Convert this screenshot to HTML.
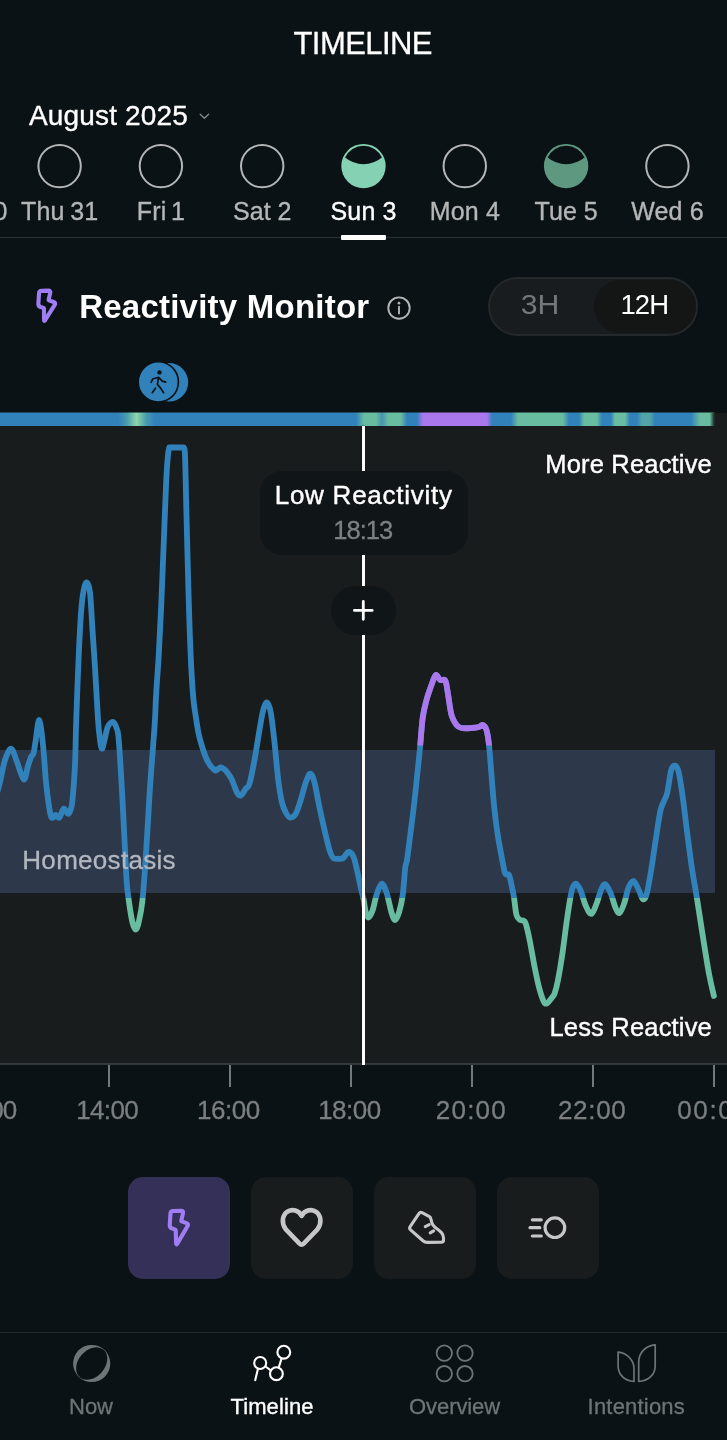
<!DOCTYPE html>
<html lang="en"><head><meta charset="utf-8"><title>Timeline</title>
<style>
html,body{margin:0;padding:0;}
body{width:727px;height:1440px;position:relative;overflow:hidden;background:#0b1215;font-family:"Liberation Sans",sans-serif;color:#fff;}
svg{display:block;overflow:visible}
</style></head><body><div id="app" style="position:absolute;left:0;top:0;width:727px;height:1440px;will-change:transform">
<div style="position:absolute;top:28.36px;font-size:31px;line-height:31px;color:#fff;white-space:nowrap;font-weight:normal;letter-spacing:-0.55px;left:362.73px;transform:translateX(-50%);-webkit-text-stroke:0.3px #fff;">TIMELINE</div>
<div style="position:absolute;top:102.10px;font-size:28px;line-height:28px;color:#fff;white-space:nowrap;font-weight:normal;letter-spacing:0.15px;left:29.00px;-webkit-text-stroke:0.35px #fff;">August 2025</div>
<svg style="position:absolute;left:196px;top:108px" width="18" height="16" viewBox="196 108 18 16"><path d="M200.2 114.2 L204.4 118.2 L208.6 114.2" fill="none" stroke="#85888a" stroke-width="1.4" stroke-linecap="round" stroke-linejoin="round"/></svg>
<svg style="position:absolute;left:0;top:130px" width="727" height="70" viewBox="0 130 727 70">
<circle cx="-41.7" cy="166.1" r="21.2" fill="none" stroke="#b4b6b7" stroke-width="2"/>
<circle cx="59.6" cy="166.1" r="21.2" fill="none" stroke="#b4b6b7" stroke-width="2"/>
<circle cx="160.9" cy="166.1" r="21.2" fill="none" stroke="#b4b6b7" stroke-width="2"/>
<circle cx="262.2" cy="166.1" r="21.2" fill="none" stroke="#b4b6b7" stroke-width="2"/>
<circle cx="363.5" cy="166.1" r="22.2" fill="#84d1b3"/>
<path d="M345.05,157.6 A20.3,20.3 0 0 1 381.95,157.6 A29.1,29.1 0 0 1 345.05,157.6 Z" fill="#0b1215"/>
<circle cx="464.8" cy="166.1" r="21.2" fill="none" stroke="#b4b6b7" stroke-width="2"/>
<circle cx="566.1" cy="166.1" r="22.2" fill="#5e9881"/>
<path d="M547.65,157.6 A20.3,20.3 0 0 1 584.55,157.6 A29.1,29.1 0 0 1 547.65,157.6 Z" fill="#0b1215"/>
<circle cx="667.4" cy="166.1" r="21.2" fill="none" stroke="#b4b6b7" stroke-width="2"/>
</svg>
<div style="position:absolute;top:198.84px;font-size:25px;line-height:25px;color:#b4b6b7;white-space:nowrap;font-weight:normal;letter-spacing:0.15px;left:7.65px;transform:translateX(-100%);-webkit-text-stroke:0.35px #b4b6b7;word-spacing:0px;">Wed 30</div>
<div style="position:absolute;top:198.84px;font-size:25px;line-height:25px;color:#b4b6b7;white-space:nowrap;font-weight:normal;letter-spacing:0.15px;left:59.68px;transform:translateX(-50%);-webkit-text-stroke:0.35px #b4b6b7;word-spacing:-1.5px;">Thu 31</div>
<div style="position:absolute;top:198.84px;font-size:25px;line-height:25px;color:#b4b6b7;white-space:nowrap;font-weight:normal;letter-spacing:0.15px;left:160.97px;transform:translateX(-50%);-webkit-text-stroke:0.35px #b4b6b7;word-spacing:-2.5px;">Fri 1</div>
<div style="position:absolute;top:198.84px;font-size:25px;line-height:25px;color:#b4b6b7;white-space:nowrap;font-weight:normal;letter-spacing:0.15px;left:262.27px;transform:translateX(-50%);-webkit-text-stroke:0.35px #b4b6b7;word-spacing:-0.5px;">Sat 2</div>
<div style="position:absolute;top:198.84px;font-size:25px;line-height:25px;color:#fff;white-space:nowrap;font-weight:normal;letter-spacing:0.15px;left:363.57px;transform:translateX(-50%);-webkit-text-stroke:0.35px #fff;word-spacing:0px;">Sun 3</div>
<div style="position:absolute;top:198.84px;font-size:25px;line-height:25px;color:#b4b6b7;white-space:nowrap;font-weight:normal;letter-spacing:0.15px;left:464.88px;transform:translateX(-50%);-webkit-text-stroke:0.35px #b4b6b7;word-spacing:0px;">Mon 4</div>
<div style="position:absolute;top:198.84px;font-size:25px;line-height:25px;color:#b4b6b7;white-space:nowrap;font-weight:normal;letter-spacing:0.15px;left:566.18px;transform:translateX(-50%);-webkit-text-stroke:0.35px #b4b6b7;word-spacing:-0.5px;">Tue 5</div>
<div style="position:absolute;top:198.84px;font-size:25px;line-height:25px;color:#b4b6b7;white-space:nowrap;font-weight:normal;letter-spacing:0.15px;left:667.48px;transform:translateX(-50%);-webkit-text-stroke:0.35px #b4b6b7;word-spacing:0px;">Wed 6</div>
<div style="position:absolute;left:0;top:236.5px;width:727px;height:1.5px;background:#2a3033"></div>
<div style="position:absolute;left:341.3px;top:234.5px;width:44.6px;height:5px;background:#fff;border-radius:1px"></div>
<svg style="position:absolute;left:30px;top:282px" width="36" height="48" viewBox="30 282 36 48"><path d="M39.04,293.29Q39.20,290.90 41.60,290.84L48.40,290.66Q50.80,290.60 50.24,292.93L48.59,299.81Q48.50,300.20 48.88,300.33L53.73,302.01Q56.00,302.80 54.73,304.84L45.27,319.96Q44.00,322.00 44.00,319.60L44.00,308.40Q44.00,308.00 43.62,307.89L40.50,306.98Q38.20,306.30 38.36,303.91Z" fill="none" stroke="#a07df5" stroke-width="4.1" stroke-linejoin="round" stroke-linecap="round"/></svg>
<div style="position:absolute;top:290.27px;font-size:33px;line-height:33px;color:#fff;white-space:nowrap;font-weight:bold;letter-spacing:0.23px;left:79.20px;">Reactivity Monitor</div>
<svg style="position:absolute;left:385px;top:294px" width="28" height="28" viewBox="385 294 28 28"><circle cx="399" cy="308.1" r="10.7" fill="none" stroke="#b4b6b7" stroke-width="1.9"/><circle cx="399" cy="303.2" r="1.35" fill="#b4b6b7"/><path d="M399 306.8 V313.6" stroke="#b4b6b7" stroke-width="1.9" stroke-linecap="round"/></svg>
<div style="position:absolute;left:487.5px;top:277px;width:210.5px;height:58.5px;border-radius:30px;background:#181c1e;box-sizing:border-box;border:2px solid #24282b"></div>
<div style="position:absolute;left:594px;top:279.5px;width:102px;height:53.5px;border-radius:27px;background:#141515"></div>
<div style="position:absolute;top:291.22px;font-size:27.5px;line-height:27.5px;color:#747779;white-space:nowrap;font-weight:normal;left:540.30px;transform:translateX(-50%) scaleX(1.1);">3H</div>
<div style="position:absolute;top:291.22px;font-size:27.5px;line-height:27.5px;color:#fff;white-space:nowrap;font-weight:normal;letter-spacing:-0.9px;left:644.35px;transform:translateX(-50%);">12H</div>
<svg style="position:absolute;left:130px;top:355px" width="70" height="55" viewBox="130 355 70 55">
<circle cx="168.9" cy="382.3" r="19.3" fill="#3181ba"/>
<circle cx="158.3" cy="381.9" r="20.1" fill="#3181ba" stroke="#0b1215" stroke-width="1.6"/>
<circle cx="159.5" cy="372.4" r="2.2" fill="#0b1215"/>
<path d="M158.5 377.4 L157.4 384.4 L160.6 388.1 L163.6 392.8 M155.6 388.1 L152.3 392.7 M157.6 377.5 L152.7 379 L151.1 382.3 M158.9 377.7 L162.2 381.1 L165.7 382.1" fill="none" stroke="#0b1215" stroke-width="1.7" stroke-linecap="round" stroke-linejoin="round"/>
</svg>
<div style="position:absolute;left:0;top:412.5px;width:727px;height:651px;background:#191c1d"></div>
<div style="position:absolute;left:0;top:1063px;width:727px;height:2px;background:#34383b"></div>
<div style="position:absolute;left:0;top:750px;width:714.6px;height:143.3px;background:#2d384a"></div>
<svg style="position:absolute;left:0;top:405px" width="727" height="640" viewBox="0 405 727 640">
<defs>
<linearGradient id="bar" gradientUnits="userSpaceOnUse" x1="0" y1="0" x2="714.5" y2="0"><stop offset="0.0000" stop-color="#3181ba"/><stop offset="0.1652" stop-color="#3181ba"/><stop offset="0.1777" stop-color="#4a9dae"/><stop offset="0.1910" stop-color="#8cd7aa"/><stop offset="0.2043" stop-color="#4a9dae"/><stop offset="0.2169" stop-color="#3181ba"/><stop offset="0.4983" stop-color="#3181ba"/><stop offset="0.5094" stop-color="#68bc9f"/><stop offset="0.5262" stop-color="#68bc9f"/><stop offset="0.5346" stop-color="#4594b2"/><stop offset="0.5430" stop-color="#68bc9f"/><stop offset="0.5612" stop-color="#68bc9f"/><stop offset="0.5696" stop-color="#3181ba"/><stop offset="0.5836" stop-color="#3181ba"/><stop offset="0.5920" stop-color="#ab77ed"/><stop offset="0.6816" stop-color="#ab77ed"/><stop offset="0.6886" stop-color="#3181ba"/><stop offset="0.7152" stop-color="#3181ba"/><stop offset="0.7250" stop-color="#68bc9f"/><stop offset="0.7880" stop-color="#68bc9f"/><stop offset="0.7964" stop-color="#3181ba"/><stop offset="0.8104" stop-color="#3181ba"/><stop offset="0.8174" stop-color="#68bc9f"/><stop offset="0.8355" stop-color="#68bc9f"/><stop offset="0.8425" stop-color="#3181ba"/><stop offset="0.8551" stop-color="#3181ba"/><stop offset="0.8607" stop-color="#68bc9f"/><stop offset="0.8747" stop-color="#68bc9f"/><stop offset="0.8817" stop-color="#3181ba"/><stop offset="0.8915" stop-color="#3181ba"/><stop offset="0.8985" stop-color="#52a4a9"/><stop offset="0.9097" stop-color="#52a4a9"/><stop offset="0.9167" stop-color="#3181ba"/><stop offset="0.9671" stop-color="#3181ba"/><stop offset="0.9797" stop-color="#68bc9f"/><stop offset="1.0000" stop-color="#68bc9f"/></linearGradient>
<linearGradient id="ln" gradientUnits="userSpaceOnUse" x1="0" y1="400" x2="0" y2="1100">
<stop offset="0" stop-color="#3181ba"/>
<stop offset="0.7111" stop-color="#3181ba"/><stop offset="0.7111" stop-color="#68bc9f"/><stop offset="1" stop-color="#68bc9f"/>
</linearGradient>
<clipPath id="pclip"><rect x="410" y="600" width="90" height="145.5"/></clipPath>
<linearGradient id="fade" gradientUnits="userSpaceOnUse" x1="709.8" y1="0" x2="714.5" y2="0"><stop offset="0" stop-color="#191c1d" stop-opacity="0"/><stop offset="1" stop-color="#191c1d" stop-opacity="1"/></linearGradient>
</defs>
<rect x="0" y="412.5" width="714.5" height="13.5" fill="url(#bar)"/>
<rect x="709.8" y="412.5" width="5" height="13.5" fill="url(#fade)"/>
<path d="M-5.00,800.00C-4.17,797.00 -1.67,788.67 0.00,782.00C1.67,775.33 3.12,765.54 5.00,760.00C6.88,754.46 9.25,748.42 11.25,748.75C13.25,749.08 14.92,756.88 17.00,762.00C19.08,767.12 21.92,778.83 23.75,779.50C25.58,780.17 26.79,769.75 28.00,766.00C29.21,762.25 30.07,759.17 31.00,757.00C31.93,754.83 32.83,755.67 33.60,753.00C34.37,750.33 34.66,746.50 35.60,741.00C36.54,735.50 38.02,719.33 39.25,720.00C40.48,720.67 41.88,734.67 43.00,745.00C44.12,755.33 45.00,771.83 46.00,782.00C47.00,792.17 48.12,800.17 49.00,806.00C49.88,811.83 50.42,815.17 51.25,817.00C52.08,818.83 53.21,817.33 54.00,817.00C54.79,816.67 55.08,814.92 56.00,815.00C56.92,815.08 58.21,818.54 59.50,817.50C60.79,816.46 62.33,809.38 63.75,808.75C65.17,808.12 66.88,813.54 68.00,813.75C69.12,813.96 69.75,812.29 70.50,810.00C71.25,807.71 71.75,807.50 72.50,800.00C73.25,792.50 74.38,778.42 75.00,765.00C75.62,751.58 75.62,737.83 76.25,719.50C76.88,701.17 77.92,673.25 78.75,655.00C79.58,636.75 80.42,620.83 81.25,610.00C82.08,599.17 82.83,594.58 83.75,590.00C84.67,585.42 85.71,582.08 86.75,582.50C87.79,582.92 89.04,584.58 90.00,592.50C90.96,600.42 91.67,617.50 92.50,630.00C93.33,642.50 94.08,652.58 95.00,667.50C95.92,682.42 97.17,707.42 98.00,719.50C98.83,731.58 99.33,735.12 100.00,740.00C100.67,744.88 101.25,748.75 102.00,748.75C102.75,748.75 103.58,743.54 104.50,740.00C105.42,736.46 106.50,730.33 107.50,727.50C108.50,724.67 109.46,723.83 110.50,723.00C111.54,722.17 112.75,721.67 113.75,722.50C114.75,723.33 115.67,725.08 116.50,728.00C117.33,730.92 117.75,728.00 118.75,740.00C119.75,752.00 121.25,777.50 122.50,800.00C123.75,822.50 125.21,858.33 126.25,875.00C127.29,891.67 127.71,892.08 128.75,900.00C129.79,907.92 131.33,917.58 132.50,922.50C133.67,927.42 134.71,929.58 135.75,929.50C136.79,929.42 137.62,926.92 138.75,922.00C139.88,917.08 141.25,912.00 142.50,900.00C143.75,888.00 145.00,868.75 146.25,850.00C147.50,831.25 148.75,806.25 150.00,787.50C151.25,768.75 152.92,748.83 153.75,737.50C154.58,726.17 154.58,727.00 155.00,719.50C155.42,712.00 155.62,703.25 156.25,692.50C156.88,681.75 157.92,669.58 158.75,655.00C159.58,640.42 160.42,623.75 161.25,605.00C162.08,586.25 162.92,563.33 163.75,542.50C164.58,521.67 165.54,494.58 166.25,480.00C166.96,465.42 167.50,460.42 168.00,455.00C168.50,449.58 169.04,448.75 169.25,447.50L183.75,447.50C183.96,448.75 184.58,445.42 185.00,455.00C185.42,464.58 185.83,488.33 186.25,505.00C186.67,521.67 187.00,536.25 187.50,555.00C188.00,573.75 188.62,598.75 189.25,617.50C189.88,636.25 190.54,653.75 191.25,667.50C191.96,681.25 192.67,691.33 193.50,700.00C194.33,708.67 195.25,713.25 196.25,719.50C197.25,725.75 197.71,730.75 199.50,737.50C201.29,744.25 204.50,754.58 207.00,760.00C209.50,765.42 212.67,768.50 214.50,770.00C216.33,771.50 216.96,769.42 218.00,769.00C219.04,768.58 219.75,767.50 220.75,767.50C221.75,767.50 222.96,768.25 224.00,769.00C225.04,769.75 225.67,770.17 227.00,772.00C228.33,773.83 230.33,776.58 232.00,780.00C233.67,783.42 235.54,789.92 237.00,792.50C238.46,795.08 239.29,796.12 240.75,795.50C242.21,794.88 244.29,790.71 245.75,788.75C247.21,786.79 248.04,788.54 249.50,783.75C250.96,778.96 252.83,768.96 254.50,760.00C256.17,751.04 258.04,738.33 259.50,730.00C260.96,721.67 262.00,714.58 263.25,710.00C264.50,705.42 265.75,702.08 267.00,702.50C268.25,702.92 269.50,705.83 270.75,712.50C272.00,719.17 273.25,731.25 274.50,742.50C275.75,753.75 277.00,770.00 278.25,780.00C279.50,790.00 280.75,797.08 282.00,802.50C283.25,807.92 284.42,810.00 285.75,812.50C287.08,815.00 288.33,817.29 290.00,817.50C291.67,817.71 293.96,816.67 295.75,813.75C297.54,810.83 299.08,805.21 300.75,800.00C302.42,794.79 304.17,786.88 305.75,782.50C307.33,778.12 308.79,773.75 310.25,773.75C311.71,773.75 312.96,776.88 314.50,782.50C316.04,788.12 317.83,799.58 319.50,807.50C321.17,815.42 322.83,822.92 324.50,830.00C326.17,837.08 328.04,845.33 329.50,850.00C330.96,854.67 331.79,856.54 333.25,858.00C334.71,859.46 336.58,858.75 338.25,858.75C339.92,858.75 341.58,859.12 343.25,858.00C344.92,856.88 346.58,852.29 348.25,852.00C349.92,851.71 351.79,853.25 353.25,856.25C354.71,859.25 355.75,864.79 357.00,870.00C358.25,875.21 359.62,882.50 360.75,887.50C361.88,892.50 363.00,896.25 363.75,900.00C364.50,903.75 364.46,907.08 365.25,910.00C366.04,912.92 367.25,917.50 368.50,917.50C369.75,917.50 371.42,913.75 372.75,910.00C374.08,906.25 375.04,899.38 376.50,895.00C377.96,890.62 379.83,884.17 381.50,883.75C383.17,883.33 384.83,887.71 386.50,892.50C388.17,897.29 390.04,907.92 391.50,912.50C392.96,917.08 394.00,920.00 395.25,920.00C396.50,920.00 397.75,916.67 399.00,912.50C400.25,908.33 401.71,902.50 402.75,895.00C403.79,887.50 404.54,873.33 405.25,867.50C405.96,861.67 406.17,865.42 407.00,860.00C407.83,854.58 409.08,844.17 410.25,835.00C411.42,825.83 412.75,815.83 414.00,805.00C415.25,794.17 416.71,780.00 417.75,770.00C418.79,760.00 419.42,753.75 420.25,745.00C421.08,736.25 421.71,725.00 422.75,717.50C423.79,710.00 425.04,705.42 426.50,700.00C427.96,694.58 429.96,689.17 431.50,685.00C433.04,680.83 434.29,675.83 435.75,675.00C437.21,674.17 438.67,679.08 440.25,680.00C441.83,680.92 444.00,678.42 445.25,680.50C446.50,682.58 446.71,686.75 447.75,692.50C448.79,698.25 450.04,709.58 451.50,715.00C452.96,720.42 454.83,722.83 456.50,725.00C458.17,727.17 459.00,727.50 461.50,728.00C464.00,728.50 468.58,728.17 471.50,728.00C474.42,727.83 477.12,727.50 479.00,727.00C480.88,726.50 481.50,724.50 482.75,725.00C484.00,725.50 485.46,726.67 486.50,730.00C487.54,733.33 488.17,737.50 489.00,745.00C489.83,752.50 490.67,765.00 491.50,775.00C492.33,785.00 492.96,795.00 494.00,805.00C495.04,815.00 496.29,825.42 497.75,835.00C499.21,844.58 501.50,856.04 502.75,862.50C504.00,868.96 504.21,871.67 505.25,873.75C506.29,875.83 507.96,873.12 509.00,875.00C510.04,876.88 510.67,881.25 511.50,885.00C512.33,888.75 513.17,892.50 514.00,897.50C514.83,902.50 515.46,911.25 516.50,915.00C517.54,918.75 518.79,918.75 520.25,920.00C521.71,921.25 523.67,919.08 525.25,922.50C526.83,925.92 528.19,933.35 529.70,940.50C531.21,947.65 532.75,957.60 534.30,965.40C535.85,973.20 537.43,981.30 539.00,987.30C540.57,993.30 542.40,998.70 543.70,1001.40C545.00,1004.10 545.50,1004.03 546.80,1003.50C548.10,1002.97 550.20,999.87 551.50,998.20C552.80,996.53 553.55,996.37 554.60,993.50C555.65,990.63 556.48,987.75 557.80,981.00C559.12,974.25 560.95,963.40 562.50,953.00C564.05,942.60 565.55,929.02 567.10,918.60C568.65,908.18 570.33,896.33 571.80,890.50C573.27,884.67 574.43,883.60 575.90,883.60C577.37,883.60 578.93,886.75 580.60,890.50C582.27,894.25 584.08,902.20 585.90,906.10C587.72,910.00 589.68,914.42 591.50,913.90C593.32,913.38 595.13,907.17 596.80,903.00C598.47,898.83 600.05,892.02 601.50,888.90C602.95,885.78 603.95,883.52 605.50,884.30C607.05,885.08 609.13,889.70 610.80,893.60C612.47,897.50 614.03,904.47 615.50,907.70C616.97,910.93 618.13,913.78 619.60,913.00C621.07,912.22 622.80,907.27 624.30,903.00C625.80,898.73 627.05,891.05 628.60,887.40C630.15,883.75 631.87,880.58 633.60,881.10C635.33,881.62 637.43,887.48 639.00,890.50C640.57,893.52 641.70,898.68 643.00,899.20C644.30,899.72 645.40,898.70 646.80,893.60C648.20,888.50 649.85,877.97 651.40,868.60C652.95,859.23 654.53,847.28 656.10,837.40C657.67,827.52 658.98,816.58 660.80,809.30C662.62,802.02 665.28,800.20 667.00,793.70C668.72,787.20 669.78,774.98 671.10,770.30C672.42,765.62 673.65,765.33 674.90,765.60C676.15,765.87 677.30,766.70 678.60,771.90C679.90,777.10 681.23,786.40 682.70,796.80C684.17,807.20 685.85,822.33 687.40,834.30C688.95,846.27 690.45,858.20 692.00,868.60C693.55,879.00 694.87,885.25 696.70,896.70C698.53,908.15 700.92,924.28 703.00,937.30C705.08,950.32 707.38,965.02 709.20,974.80C711.02,984.58 713.12,992.47 713.90,996.00" fill="none" stroke="url(#ln)" stroke-width="5.8" stroke-linejoin="round" stroke-linecap="round"/>
<path d="M-5.00,800.00C-4.17,797.00 -1.67,788.67 0.00,782.00C1.67,775.33 3.12,765.54 5.00,760.00C6.88,754.46 9.25,748.42 11.25,748.75C13.25,749.08 14.92,756.88 17.00,762.00C19.08,767.12 21.92,778.83 23.75,779.50C25.58,780.17 26.79,769.75 28.00,766.00C29.21,762.25 30.07,759.17 31.00,757.00C31.93,754.83 32.83,755.67 33.60,753.00C34.37,750.33 34.66,746.50 35.60,741.00C36.54,735.50 38.02,719.33 39.25,720.00C40.48,720.67 41.88,734.67 43.00,745.00C44.12,755.33 45.00,771.83 46.00,782.00C47.00,792.17 48.12,800.17 49.00,806.00C49.88,811.83 50.42,815.17 51.25,817.00C52.08,818.83 53.21,817.33 54.00,817.00C54.79,816.67 55.08,814.92 56.00,815.00C56.92,815.08 58.21,818.54 59.50,817.50C60.79,816.46 62.33,809.38 63.75,808.75C65.17,808.12 66.88,813.54 68.00,813.75C69.12,813.96 69.75,812.29 70.50,810.00C71.25,807.71 71.75,807.50 72.50,800.00C73.25,792.50 74.38,778.42 75.00,765.00C75.62,751.58 75.62,737.83 76.25,719.50C76.88,701.17 77.92,673.25 78.75,655.00C79.58,636.75 80.42,620.83 81.25,610.00C82.08,599.17 82.83,594.58 83.75,590.00C84.67,585.42 85.71,582.08 86.75,582.50C87.79,582.92 89.04,584.58 90.00,592.50C90.96,600.42 91.67,617.50 92.50,630.00C93.33,642.50 94.08,652.58 95.00,667.50C95.92,682.42 97.17,707.42 98.00,719.50C98.83,731.58 99.33,735.12 100.00,740.00C100.67,744.88 101.25,748.75 102.00,748.75C102.75,748.75 103.58,743.54 104.50,740.00C105.42,736.46 106.50,730.33 107.50,727.50C108.50,724.67 109.46,723.83 110.50,723.00C111.54,722.17 112.75,721.67 113.75,722.50C114.75,723.33 115.67,725.08 116.50,728.00C117.33,730.92 117.75,728.00 118.75,740.00C119.75,752.00 121.25,777.50 122.50,800.00C123.75,822.50 125.21,858.33 126.25,875.00C127.29,891.67 127.71,892.08 128.75,900.00C129.79,907.92 131.33,917.58 132.50,922.50C133.67,927.42 134.71,929.58 135.75,929.50C136.79,929.42 137.62,926.92 138.75,922.00C139.88,917.08 141.25,912.00 142.50,900.00C143.75,888.00 145.00,868.75 146.25,850.00C147.50,831.25 148.75,806.25 150.00,787.50C151.25,768.75 152.92,748.83 153.75,737.50C154.58,726.17 154.58,727.00 155.00,719.50C155.42,712.00 155.62,703.25 156.25,692.50C156.88,681.75 157.92,669.58 158.75,655.00C159.58,640.42 160.42,623.75 161.25,605.00C162.08,586.25 162.92,563.33 163.75,542.50C164.58,521.67 165.54,494.58 166.25,480.00C166.96,465.42 167.50,460.42 168.00,455.00C168.50,449.58 169.04,448.75 169.25,447.50L183.75,447.50C183.96,448.75 184.58,445.42 185.00,455.00C185.42,464.58 185.83,488.33 186.25,505.00C186.67,521.67 187.00,536.25 187.50,555.00C188.00,573.75 188.62,598.75 189.25,617.50C189.88,636.25 190.54,653.75 191.25,667.50C191.96,681.25 192.67,691.33 193.50,700.00C194.33,708.67 195.25,713.25 196.25,719.50C197.25,725.75 197.71,730.75 199.50,737.50C201.29,744.25 204.50,754.58 207.00,760.00C209.50,765.42 212.67,768.50 214.50,770.00C216.33,771.50 216.96,769.42 218.00,769.00C219.04,768.58 219.75,767.50 220.75,767.50C221.75,767.50 222.96,768.25 224.00,769.00C225.04,769.75 225.67,770.17 227.00,772.00C228.33,773.83 230.33,776.58 232.00,780.00C233.67,783.42 235.54,789.92 237.00,792.50C238.46,795.08 239.29,796.12 240.75,795.50C242.21,794.88 244.29,790.71 245.75,788.75C247.21,786.79 248.04,788.54 249.50,783.75C250.96,778.96 252.83,768.96 254.50,760.00C256.17,751.04 258.04,738.33 259.50,730.00C260.96,721.67 262.00,714.58 263.25,710.00C264.50,705.42 265.75,702.08 267.00,702.50C268.25,702.92 269.50,705.83 270.75,712.50C272.00,719.17 273.25,731.25 274.50,742.50C275.75,753.75 277.00,770.00 278.25,780.00C279.50,790.00 280.75,797.08 282.00,802.50C283.25,807.92 284.42,810.00 285.75,812.50C287.08,815.00 288.33,817.29 290.00,817.50C291.67,817.71 293.96,816.67 295.75,813.75C297.54,810.83 299.08,805.21 300.75,800.00C302.42,794.79 304.17,786.88 305.75,782.50C307.33,778.12 308.79,773.75 310.25,773.75C311.71,773.75 312.96,776.88 314.50,782.50C316.04,788.12 317.83,799.58 319.50,807.50C321.17,815.42 322.83,822.92 324.50,830.00C326.17,837.08 328.04,845.33 329.50,850.00C330.96,854.67 331.79,856.54 333.25,858.00C334.71,859.46 336.58,858.75 338.25,858.75C339.92,858.75 341.58,859.12 343.25,858.00C344.92,856.88 346.58,852.29 348.25,852.00C349.92,851.71 351.79,853.25 353.25,856.25C354.71,859.25 355.75,864.79 357.00,870.00C358.25,875.21 359.62,882.50 360.75,887.50C361.88,892.50 363.00,896.25 363.75,900.00C364.50,903.75 364.46,907.08 365.25,910.00C366.04,912.92 367.25,917.50 368.50,917.50C369.75,917.50 371.42,913.75 372.75,910.00C374.08,906.25 375.04,899.38 376.50,895.00C377.96,890.62 379.83,884.17 381.50,883.75C383.17,883.33 384.83,887.71 386.50,892.50C388.17,897.29 390.04,907.92 391.50,912.50C392.96,917.08 394.00,920.00 395.25,920.00C396.50,920.00 397.75,916.67 399.00,912.50C400.25,908.33 401.71,902.50 402.75,895.00C403.79,887.50 404.54,873.33 405.25,867.50C405.96,861.67 406.17,865.42 407.00,860.00C407.83,854.58 409.08,844.17 410.25,835.00C411.42,825.83 412.75,815.83 414.00,805.00C415.25,794.17 416.71,780.00 417.75,770.00C418.79,760.00 419.42,753.75 420.25,745.00C421.08,736.25 421.71,725.00 422.75,717.50C423.79,710.00 425.04,705.42 426.50,700.00C427.96,694.58 429.96,689.17 431.50,685.00C433.04,680.83 434.29,675.83 435.75,675.00C437.21,674.17 438.67,679.08 440.25,680.00C441.83,680.92 444.00,678.42 445.25,680.50C446.50,682.58 446.71,686.75 447.75,692.50C448.79,698.25 450.04,709.58 451.50,715.00C452.96,720.42 454.83,722.83 456.50,725.00C458.17,727.17 459.00,727.50 461.50,728.00C464.00,728.50 468.58,728.17 471.50,728.00C474.42,727.83 477.12,727.50 479.00,727.00C480.88,726.50 481.50,724.50 482.75,725.00C484.00,725.50 485.46,726.67 486.50,730.00C487.54,733.33 488.17,737.50 489.00,745.00C489.83,752.50 490.67,765.00 491.50,775.00C492.33,785.00 492.96,795.00 494.00,805.00C495.04,815.00 496.29,825.42 497.75,835.00C499.21,844.58 501.50,856.04 502.75,862.50C504.00,868.96 504.21,871.67 505.25,873.75C506.29,875.83 507.96,873.12 509.00,875.00C510.04,876.88 510.67,881.25 511.50,885.00C512.33,888.75 513.17,892.50 514.00,897.50C514.83,902.50 515.46,911.25 516.50,915.00C517.54,918.75 518.79,918.75 520.25,920.00C521.71,921.25 523.67,919.08 525.25,922.50C526.83,925.92 528.19,933.35 529.70,940.50C531.21,947.65 532.75,957.60 534.30,965.40C535.85,973.20 537.43,981.30 539.00,987.30C540.57,993.30 542.40,998.70 543.70,1001.40C545.00,1004.10 545.50,1004.03 546.80,1003.50C548.10,1002.97 550.20,999.87 551.50,998.20C552.80,996.53 553.55,996.37 554.60,993.50C555.65,990.63 556.48,987.75 557.80,981.00C559.12,974.25 560.95,963.40 562.50,953.00C564.05,942.60 565.55,929.02 567.10,918.60C568.65,908.18 570.33,896.33 571.80,890.50C573.27,884.67 574.43,883.60 575.90,883.60C577.37,883.60 578.93,886.75 580.60,890.50C582.27,894.25 584.08,902.20 585.90,906.10C587.72,910.00 589.68,914.42 591.50,913.90C593.32,913.38 595.13,907.17 596.80,903.00C598.47,898.83 600.05,892.02 601.50,888.90C602.95,885.78 603.95,883.52 605.50,884.30C607.05,885.08 609.13,889.70 610.80,893.60C612.47,897.50 614.03,904.47 615.50,907.70C616.97,910.93 618.13,913.78 619.60,913.00C621.07,912.22 622.80,907.27 624.30,903.00C625.80,898.73 627.05,891.05 628.60,887.40C630.15,883.75 631.87,880.58 633.60,881.10C635.33,881.62 637.43,887.48 639.00,890.50C640.57,893.52 641.70,898.68 643.00,899.20C644.30,899.72 645.40,898.70 646.80,893.60C648.20,888.50 649.85,877.97 651.40,868.60C652.95,859.23 654.53,847.28 656.10,837.40C657.67,827.52 658.98,816.58 660.80,809.30C662.62,802.02 665.28,800.20 667.00,793.70C668.72,787.20 669.78,774.98 671.10,770.30C672.42,765.62 673.65,765.33 674.90,765.60C676.15,765.87 677.30,766.70 678.60,771.90C679.90,777.10 681.23,786.40 682.70,796.80C684.17,807.20 685.85,822.33 687.40,834.30C688.95,846.27 690.45,858.20 692.00,868.60C693.55,879.00 694.87,885.25 696.70,896.70C698.53,908.15 700.92,924.28 703.00,937.30C705.08,950.32 707.38,965.02 709.20,974.80C711.02,984.58 713.12,992.47 713.90,996.00" fill="none" stroke="#ab77ed" stroke-width="5.8" stroke-linejoin="round" stroke-linecap="round" clip-path="url(#pclip)"/>
</svg>
<div style="position:absolute;top:847.49px;font-size:26px;line-height:26px;color:#b3b7c0;white-space:nowrap;font-weight:normal;letter-spacing:0.3px;left:22.30px;-webkit-text-stroke:0.3px #b3b7c0;">Homeostasis</div>
<div style="position:absolute;left:362.35px;top:426px;width:2.8px;height:639.4px;background:#fff;box-shadow:0 0 1.2px 0.3px rgba(0,0,0,0.85)"></div>
<div style="position:absolute;left:259.5px;top:470.7px;width:208.8px;height:84.8px;border-radius:22px;background:#101517"></div>
<div style="position:absolute;top:481.79px;font-size:26px;line-height:26px;color:#fff;white-space:nowrap;font-weight:normal;letter-spacing:0.75px;left:363.77px;transform:translateX(-50%);-webkit-text-stroke:0.4px #fff;">Low Reactivity</div>
<div style="position:absolute;top:518.11px;font-size:25.5px;line-height:25.5px;color:#7d8082;white-space:nowrap;font-weight:normal;letter-spacing:-1.0px;left:362.70px;transform:translateX(-50%);-webkit-text-stroke:0.3px #7d8082;">18:13</div>
<div style="position:absolute;left:331.1px;top:585.5px;width:64.8px;height:49.6px;border-radius:25px;background:#101517"></div>
<svg style="position:absolute;left:350px;top:597px" width="28" height="28" viewBox="350 597 28 28"><path d="M354.4 610.4 H372.2 M363.3 601.5 V619.3" stroke="#fff" stroke-width="2.8" stroke-linecap="round"/></svg>
<div style="position:absolute;top:452.41px;font-size:25.5px;line-height:25.5px;color:#fff;white-space:nowrap;font-weight:normal;letter-spacing:0.18px;left:711.98px;transform:translateX(-100%);-webkit-text-stroke:0.4px #fff;">More Reactive</div>
<div style="position:absolute;top:1015.41px;font-size:25.5px;line-height:25.5px;color:#fff;white-space:nowrap;font-weight:normal;letter-spacing:0.18px;left:711.98px;transform:translateX(-100%);-webkit-text-stroke:0.4px #fff;">Less Reactive</div>
<div style="position:absolute;left:-13.4px;top:1065.3px;width:2px;height:21.5px;background:#74787a"></div>
<div style="position:absolute;top:1096.79px;font-size:26px;line-height:26px;color:#7b7f81;white-space:nowrap;font-weight:normal;letter-spacing:-0.8px;left:-14.00px;transform:translateX(-50%);-webkit-text-stroke:0.3px #7b7f81;">12:00</div>
<div style="position:absolute;left:107.7px;top:1065.3px;width:2px;height:21.5px;background:#74787a"></div>
<div style="position:absolute;top:1096.79px;font-size:26px;line-height:26px;color:#7b7f81;white-space:nowrap;font-weight:normal;letter-spacing:-0.6px;left:107.20px;transform:translateX(-50%);-webkit-text-stroke:0.3px #7b7f81;">14:00</div>
<div style="position:absolute;left:228.8px;top:1065.3px;width:2px;height:21.5px;background:#74787a"></div>
<div style="position:absolute;top:1096.79px;font-size:26px;line-height:26px;color:#7b7f81;white-space:nowrap;font-weight:normal;letter-spacing:-0.5px;left:228.35px;transform:translateX(-50%);-webkit-text-stroke:0.3px #7b7f81;">16:00</div>
<div style="position:absolute;left:349.9px;top:1065.3px;width:2px;height:21.5px;background:#74787a"></div>
<div style="position:absolute;top:1096.79px;font-size:26px;line-height:26px;color:#7b7f81;white-space:nowrap;font-weight:normal;letter-spacing:-0.5px;left:349.45px;transform:translateX(-50%);-webkit-text-stroke:0.3px #7b7f81;">18:00</div>
<div style="position:absolute;left:471.0px;top:1065.3px;width:2px;height:21.5px;background:#74787a"></div>
<div style="position:absolute;top:1096.79px;font-size:26px;line-height:26px;color:#7b7f81;white-space:nowrap;font-weight:normal;letter-spacing:1.2px;left:471.40px;transform:translateX(-50%);-webkit-text-stroke:0.3px #7b7f81;">20:00</div>
<div style="position:absolute;left:592.1px;top:1065.3px;width:2px;height:21.5px;background:#74787a"></div>
<div style="position:absolute;top:1096.79px;font-size:26px;line-height:26px;color:#7b7f81;white-space:nowrap;font-weight:normal;letter-spacing:0.7px;left:592.25px;transform:translateX(-50%);-webkit-text-stroke:0.3px #7b7f81;">22:00</div>
<div style="position:absolute;left:713.2px;top:1065.3px;width:2px;height:21.5px;background:#74787a"></div>
<div style="position:absolute;top:1096.79px;font-size:26px;line-height:26px;color:#7b7f81;white-space:nowrap;font-weight:normal;letter-spacing:1.6px;left:713.80px;transform:translateX(-50%);-webkit-text-stroke:0.3px #7b7f81;">00:00</div>
<div style="position:absolute;left:128.2px;top:1177px;width:102px;height:102px;border-radius:15px;background:#353057"></div>
<div style="position:absolute;left:251.2px;top:1177px;width:102px;height:102px;border-radius:15px;background:#191c1d"></div>
<div style="position:absolute;left:374.2px;top:1177px;width:102px;height:102px;border-radius:15px;background:#191c1d"></div>
<div style="position:absolute;left:497.2px;top:1177px;width:102px;height:102px;border-radius:15px;background:#191c1d"></div>
<svg style="position:absolute;left:128px;top:1177px" width="472" height="102" viewBox="128 1177 472 102">
<path d="M170.46,1213.40Q170.60,1211.00 173.00,1210.96L181.10,1210.84Q183.50,1210.80 182.99,1213.14L181.29,1220.91Q181.20,1221.30 181.58,1221.43L186.53,1223.12Q188.80,1223.90 187.59,1225.98L177.41,1243.52Q176.20,1245.60 176.12,1243.20L175.71,1230.20Q175.70,1229.80 175.32,1229.66L171.86,1228.41Q169.60,1227.60 169.74,1225.20Z" fill="none" stroke="#a07df5" stroke-width="4.1" stroke-linejoin="round" stroke-linecap="round"/>
<path d="M301.63,1215.87 C298.78,1210.34 292.45,1208.75 287.71,1211.44 C282.17,1214.76 281.06,1222.99 285.81,1229.32 L299.57,1243.55 Q301.63,1245.61 303.68,1243.55 L317.45,1229.32 C322.19,1222.99 321.08,1214.76 315.55,1211.44 C310.80,1208.75 304.47,1210.34 301.63,1215.87 Z" fill="none" stroke="#c6c7c8" stroke-width="4.6" stroke-linejoin="round"/>
<path d="M419.08,1213.36Q420.20,1211.70 421.97,1212.64L429.07,1216.40Q430.40,1217.10 430.78,1218.55L431.85,1222.70Q432.60,1225.60 435.05,1227.33L436.95,1228.67Q439.40,1230.40 441.45,1232.59L441.45,1232.61Q443.50,1234.80 443.50,1237.80L443.50,1240.00Q443.50,1242.20 441.30,1242.22L427.10,1242.38Q424.90,1242.40 423.24,1240.96L410.56,1229.94Q408.90,1228.50 410.13,1226.67Z M425.3 1226.6 L429.2 1224.7 M430.2 1232.8 L433.6 1230.8" fill="none" stroke="#c6c7c8" stroke-width="3.1" stroke-linejoin="round" stroke-linecap="round"/>
<circle cx="554.9" cy="1227.7" r="9.8" fill="none" stroke="#c6c7c8" stroke-width="3.2"/>
<path d="M532.4 1219.8 H541.3 M530 1227.7 H539.8 M532.4 1236 H541.3" stroke="#c6c7c8" stroke-width="3.2" stroke-linecap="round"/>
</svg>
<div style="position:absolute;left:0;top:1332px;width:727px;height:1.3px;background:#23282b"></div>
<svg style="position:absolute;left:0;top:1338px" width="727" height="50" viewBox="0 1338 727 50">
<circle cx="91.7" cy="1363.5" r="18.6" fill="#6f7476"/>
<ellipse cx="91.7" cy="1363.5" rx="18.2" ry="13.2" fill="#0b1215" transform="rotate(-49 91.7 1363.5)"/>
<g fill="none" stroke="#fff" stroke-width="2.1" stroke-linecap="round">
<circle cx="260.2" cy="1363" r="6"/><circle cx="276.4" cy="1373.7" r="6.4"/><circle cx="283.8" cy="1352.2" r="6.4"/>
<path d="M257.9 1369 L255.2 1380.3 M265.5 1366.5 L270.8 1370.4 M278.7 1367.6 L281.6 1358.4"/>
</g>
<g fill="none" stroke="#6f7476" stroke-width="1.8">
<circle cx="444.3" cy="1353.1" r="7.7"/><circle cx="465" cy="1353.1" r="7.7"/><circle cx="444.3" cy="1373.7" r="7.7"/><circle cx="465" cy="1373.7" r="7.7"/>
</g>
<g fill="none" stroke="#6f7476" stroke-width="1.7" stroke-linejoin="round">
<path d="M618.1 1352.2 L618.1 1366 C618.1 1375 625 1381 634 1381.5 L634 1369 C634 1360 627 1353 618.1 1352.2 Z"/>
<path d="M655.2 1344.8 L655.2 1366 C655.2 1375 648 1381 638.7 1381.5 L638.7 1362 C638.7 1352.5 646 1345.5 655.2 1344.8 Z"/>
</g>
</svg>
<div style="position:absolute;top:1396.38px;font-size:22px;line-height:22px;color:#6f7476;white-space:nowrap;font-weight:normal;left:91.00px;transform:translateX(-50%);-webkit-text-stroke:0.3px #6f7476;">Now</div>
<div style="position:absolute;top:1396.38px;font-size:22px;line-height:22px;color:#fff;white-space:nowrap;font-weight:normal;letter-spacing:0.1px;left:272.05px;transform:translateX(-50%);-webkit-text-stroke:0.35px #fff;">Timeline</div>
<div style="position:absolute;top:1396.38px;font-size:22px;line-height:22px;color:#6f7476;white-space:nowrap;font-weight:normal;letter-spacing:-0.1px;left:454.55px;transform:translateX(-50%);-webkit-text-stroke:0.3px #6f7476;">Overview</div>
<div style="position:absolute;top:1396.38px;font-size:22px;line-height:22px;color:#6f7476;white-space:nowrap;font-weight:normal;letter-spacing:0.2px;left:636.30px;transform:translateX(-50%);-webkit-text-stroke:0.3px #6f7476;">Intentions</div>
</div></body></html>
